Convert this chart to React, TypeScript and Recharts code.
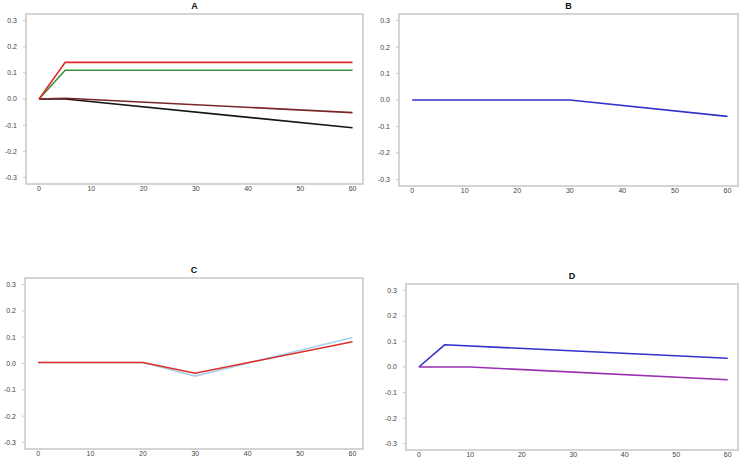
import { LineChart, Line, XAxis, YAxis, ReferenceArea } from "recharts";

// x positions (time) and values for each panel
const xA = [0, 5, 60];
const aRed = [0, 0.14, 0.14];
const aGreen = [0, 0.11, 0.11];
const aBrown = [0, 0.003, -0.052];
const aBlack = [0, 0, -0.11];

const xB = [0, 30, 60];
const bBlue = [0, 0, -0.062];

const xC = [0, 20, 30, 60];
const cLightBlue = [0.004, 0.004, -0.048, 0.099];
const cRed = [0.004, 0.004, -0.037, 0.083];

const xD1 = [0, 5, 60];
const dBlue = [0, 0.087, 0.034];
const xD2 = [0, 10, 60];
const dPurple = [0, 0, -0.05];

const xTicks = [0, 10, 20, 30, 40, 50, 60];
const yTicks = [-0.3, -0.2, -0.1, 0, 0.1, 0.2, 0.3];

const X_DOMAIN: [number, number] = [-2.5, 62];
const Y_DOMAIN: [number, number] = [-0.325, 0.325];

const FONT = "'Liberation Sans', Arial, sans-serif";

type Series = { xs: number[]; ys: number[]; color: string };

const toPoints = (xs: number[], ys: number[]) => xs.map((x, i) => ({ x, y: ys[i] }));

const YW = 40;
const TOP = 14;
const XH = 20;

function Panel({ title, left, top, w, h, series }: {
  title: string; left: number; top: number; w: number; h: number; series: Series[];
}) {
  return (
    <div style={{ position: "absolute", left: left - YW, top: top - TOP, width: w + YW + 4, height: h + TOP + XH }}>
      <div style={{
        position: "absolute", left: YW, top: 1, width: w, textAlign: "center",
        fontFamily: FONT, fontWeight: "bold", fontSize: 9, color: "#111", lineHeight: "10px",
      }}>{title}</div>
      <LineChart width={w + YW + 4} height={h + TOP + XH} margin={{ top: TOP, right: 4, left: 0, bottom: 0 }}>
        <XAxis
          type="number" dataKey="x" domain={X_DOMAIN} ticks={xTicks} allowDataOverflow
          height={XH} axisLine={false} tickLine={false} tickSize={1} tickMargin={1}
          tick={{ fontSize: 7, fill: "#444", fontFamily: FONT }}
        />
        <YAxis
          type="number" dataKey="y" domain={Y_DOMAIN} ticks={yTicks} allowDataOverflow
          width={YW} axisLine={false} tickSize={3} tickMargin={6}
          tickLine={{ stroke: "#c8c8c8" }}
          tickFormatter={(v: number) => v.toFixed(1)}
          tick={{ fontSize: 7, fill: "#444", fontFamily: FONT }}
        />
        <ReferenceArea
          x1={X_DOMAIN[0]} x2={X_DOMAIN[1]} y1={Y_DOMAIN[0]} y2={Y_DOMAIN[1]}
          ifOverflow="visible" fill="none" stroke="#c6c6c6" strokeWidth={1.5}
        />
        {series.map((s, i) => (
          <Line
            key={i}
            data={toPoints(s.xs, s.ys)}
            dataKey="y"
            type="linear"
            stroke={s.color}
            strokeWidth={1.6}
            dot={false}
            activeDot={false}
            isAnimationActive={false}
          />
        ))}
      </LineChart>
    </div>
  );
}

export default function App() {
  return (
    <div style={{ position: "absolute", left: 0, top: 0, width: 744, height: 460, background: "#fff", overflow: "hidden" }}>
      <Panel
        title="A" left={26} top={13.5} w={337} h={170}
        series={[
          { xs: xA, ys: aBlack, color: "#151515" },
          { xs: xA, ys: aBrown, color: "#7a2626" },
          { xs: xA, ys: aGreen, color: "#3a923a" },
          { xs: xA, ys: aRed, color: "#e02828" },
        ]}
      />
      <Panel
        title="B" left={399} top={14} w={339} h={172}
        series={[{ xs: xB, ys: bBlue, color: "#3232cc" }]}
      />
      <Panel
        title="C" left={25} top={278} w={338} h={171}
        series={[
          { xs: xC, ys: cLightBlue, color: "#a6d2ea" },
          { xs: xC, ys: cRed, color: "#e02c2c" },
        ]}
      />
      <Panel
        title="D" left={406} top={284} w={332} h={166}
        series={[
          { xs: xD1, ys: dBlue, color: "#3232cc" },
          { xs: xD2, ys: dPurple, color: "#9a30b0" },
        ]}
      />
    </div>
  );
}
